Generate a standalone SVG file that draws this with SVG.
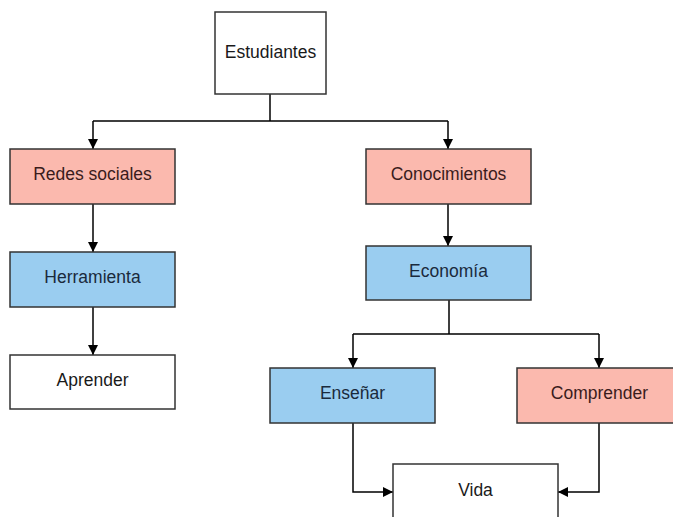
<svg xmlns="http://www.w3.org/2000/svg" width="673" height="517" viewBox="0 0 673 517">
<defs>
<marker id="ah" viewBox="0 0 10 10" refX="10" refY="5" markerWidth="10" markerHeight="10" markerUnits="userSpaceOnUse" orient="auto">
<path d="M0,0 L10,5 L0,10 z" fill="#000"/>
</marker>
<style>
.box{stroke:#333;stroke-width:1.5}
.w{fill:#fff}.p{fill:#fbb9ae}.b{fill:#9acdf0}
text{font-family:"Liberation Sans",Arial,sans-serif;font-size:17.5px;fill:#1a1a1a;text-anchor:middle;dominant-baseline:central}
.tp{fill:#3a1c1c}.tb{fill:#1a2a3c}
.c{fill:none;stroke:#000;stroke-width:1.5;marker-end:url(#ah)}
.l{fill:none;stroke:#000;stroke-width:1.5}
</style>
</defs>
<rect width="673" height="517" fill="#fff"/>
<g id="connectors">
<path class="l" d="M270,94 V121"/>
<path class="c" d="M93,121 H448 M93,121 V149"/>
<path class="c" d="M448,121 V149"/>
<path class="c" d="M93,204 V252"/>
<path class="c" d="M93,307 V355"/>
<path class="c" d="M448,204 V246"/>
<path class="l" d="M449,300 V334 M353,334 H599"/>
<path class="c" d="M353,334 V368"/>
<path class="c" d="M599,334 V368"/>
<path class="c" d="M353,423 V492 H393"/>
<path class="c" d="M599,423 V492 H558"/>
</g>
<g id="estudiantes"><rect class="box w" x="215" y="12" width="111" height="82"/><text x="270.5" y="51.5">Estudiantes</text></g>
<g id="redes"><rect class="box p" x="10" y="149" width="165" height="55"/><text class="tp" x="92.5" y="174">Redes sociales</text></g>
<g id="herramienta"><rect class="box b" x="10" y="252" width="165" height="55"/><text class="tb" x="92.5" y="277">Herramienta</text></g>
<g id="aprender"><rect class="box w" x="10" y="355" width="165" height="54"/><text x="92.5" y="380">Aprender</text></g>
<g id="conocimientos"><rect class="box p" x="366" y="149" width="165" height="55"/><text class="tp" x="448.5" y="174">Conocimientos</text></g>
<g id="economia"><rect class="box b" x="366" y="246" width="165" height="54"/><text class="tb" x="448.5" y="270.5">Economía</text></g>
<g id="ensenar"><rect class="box b" x="270" y="368" width="165" height="55"/><text class="tb" x="352.5" y="393">Enseñar</text></g>
<g id="comprender"><rect class="box p" x="517" y="368" width="165" height="55"/><text class="tp" x="599.5" y="393">Comprender</text></g>
<g id="vida"><rect class="box w" x="393" y="464" width="165" height="70"/><text x="475.5" y="490">Vida</text></g>
</svg>
